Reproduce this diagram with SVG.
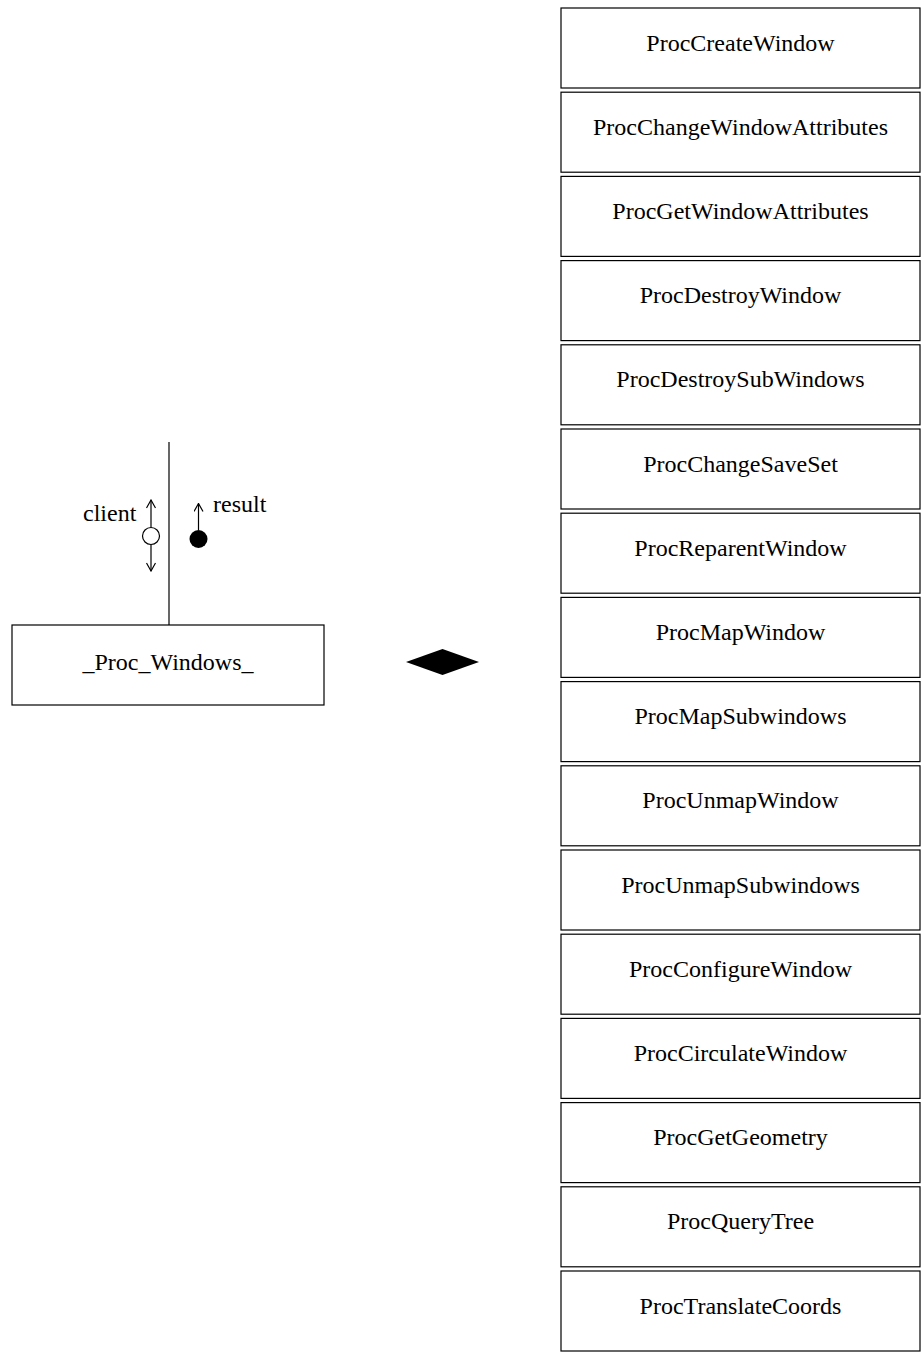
<svg xmlns="http://www.w3.org/2000/svg" width="924" height="1353" viewBox="0 0 924 1353">
  <style>
    .box { fill: #ffffff; stroke: #000000; stroke-width: 1.2; }
    .label { font-family: "Liberation Serif", "Times New Roman", "DejaVu Serif", serif; font-size: 24px; fill: #000000; }
    .mid { text-anchor: middle; }
    .wire { stroke: #000000; stroke-width: 1.2; fill: none; }
  </style>
  <defs>
    <marker id="open-v" viewBox="0 0 10 10" refX="9" refY="5" markerWidth="10" markerHeight="10" markerUnits="userSpaceOnUse" orient="auto">
      <path d="M1,0.5 L9,5 L1,9.5" fill="none" stroke="#000000" stroke-width="1.2"/>
    </marker>
  </defs>

  <rect width="924" height="1353" fill="#ffffff"/>

  <!-- connectors -->
  <g id="connectors">
    <line class="wire" x1="169" y1="442" x2="169" y2="625"/>
    <!-- client: bidirectional data couple -->
    <line class="wire" x1="151" y1="527" x2="151" y2="500" marker-end="url(#open-v)"/>
    <line class="wire" x1="151" y1="545" x2="151" y2="571" marker-end="url(#open-v)"/>
    <circle cx="151" cy="536" r="8.5" fill="#ffffff" stroke="#000000" stroke-width="1.2"/>
    <!-- result: control couple -->
    <line class="wire" x1="198.5" y1="530" x2="198.5" y2="503.5" marker-end="url(#open-v)"/>
    <circle cx="198.5" cy="539" r="9" fill="#000000"/>
    <text class="label" x="83" y="521">client</text>
    <text class="label" x="213" y="512">result</text>
    <!-- aggregation diamond -->
    <polygon points="406,662 442.5,649 479,662 442.5,675" fill="#000000"/>
  </g>

  <g id="proc-windows">
    <rect class="box" x="12" y="625" width="312" height="80"/>
    <text class="label mid" x="168" y="670">_Proc_Windows_</text>
  </g>

  <g id="proc-create-window">
    <rect class="box" x="561" y="8" width="359" height="80"/>
    <text class="label mid" x="740.5" y="50.5">ProcCreateWindow</text>
  </g>
  <g id="proc-change-window-attributes">
    <rect class="box" x="561" y="92.2" width="359" height="80"/>
    <text class="label mid" x="740.5" y="134.7">ProcChangeWindowAttributes</text>
  </g>
  <g id="proc-get-window-attributes">
    <rect class="box" x="561" y="176.4" width="359" height="80"/>
    <text class="label mid" x="740.5" y="218.9">ProcGetWindowAttributes</text>
  </g>
  <g id="proc-destroy-window">
    <rect class="box" x="561" y="260.6" width="359" height="80"/>
    <text class="label mid" x="740.5" y="303.1">ProcDestroyWindow</text>
  </g>
  <g id="proc-destroy-sub-windows">
    <rect class="box" x="561" y="344.8" width="359" height="80"/>
    <text class="label mid" x="740.5" y="387.3">ProcDestroySubWindows</text>
  </g>
  <g id="proc-change-save-set">
    <rect class="box" x="561" y="429" width="359" height="80"/>
    <text class="label mid" x="740.5" y="471.5">ProcChangeSaveSet</text>
  </g>
  <g id="proc-reparent-window">
    <rect class="box" x="561" y="513.2" width="359" height="80"/>
    <text class="label mid" x="740.5" y="555.7">ProcReparentWindow</text>
  </g>
  <g id="proc-map-window">
    <rect class="box" x="561" y="597.4" width="359" height="80"/>
    <text class="label mid" x="740.5" y="639.9">ProcMapWindow</text>
  </g>
  <g id="proc-map-subwindows">
    <rect class="box" x="561" y="681.6" width="359" height="80"/>
    <text class="label mid" x="740.5" y="724.1">ProcMapSubwindows</text>
  </g>
  <g id="proc-unmap-window">
    <rect class="box" x="561" y="765.8" width="359" height="80"/>
    <text class="label mid" x="740.5" y="808.3">ProcUnmapWindow</text>
  </g>
  <g id="proc-unmap-subwindows">
    <rect class="box" x="561" y="850" width="359" height="80"/>
    <text class="label mid" x="740.5" y="892.5">ProcUnmapSubwindows</text>
  </g>
  <g id="proc-configure-window">
    <rect class="box" x="561" y="934.2" width="359" height="80"/>
    <text class="label mid" x="740.5" y="976.7">ProcConfigureWindow</text>
  </g>
  <g id="proc-circulate-window">
    <rect class="box" x="561" y="1018.4" width="359" height="80"/>
    <text class="label mid" x="740.5" y="1060.9">ProcCirculateWindow</text>
  </g>
  <g id="proc-get-geometry">
    <rect class="box" x="561" y="1102.6" width="359" height="80"/>
    <text class="label mid" x="740.5" y="1145.1">ProcGetGeometry</text>
  </g>
  <g id="proc-query-tree">
    <rect class="box" x="561" y="1186.8" width="359" height="80"/>
    <text class="label mid" x="740.5" y="1229.3">ProcQueryTree</text>
  </g>
  <g id="proc-translate-coords">
    <rect class="box" x="561" y="1271" width="359" height="80"/>
    <text class="label mid" x="740.5" y="1313.5">ProcTranslateCoords</text>
  </g>
</svg>
